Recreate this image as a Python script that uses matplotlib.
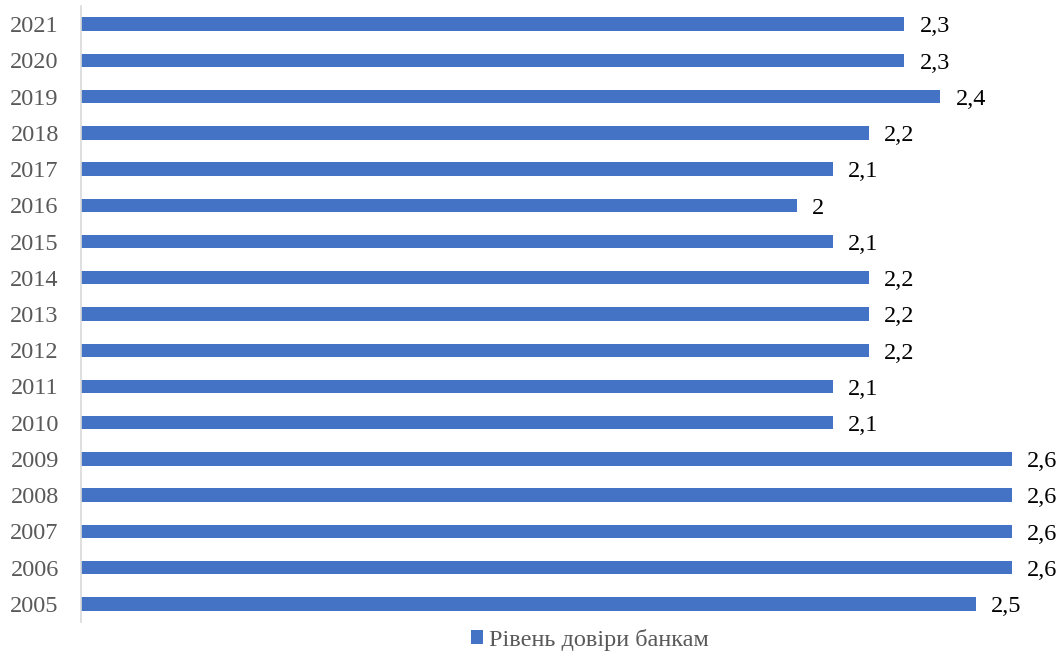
import matplotlib.pyplot as plt
from matplotlib.patches import Patch

years = [str(y) for y in range(2005, 2022)]
values = [2.5, 2.6, 2.6, 2.6, 2.6, 2.1, 2.1, 2.2, 2.2, 2.2, 2.1, 2.0, 2.1, 2.2, 2.4, 2.3, 2.3]
series_name = 'Рівень довіри банкам'

plt.rcParams['font.family'] = ['Liberation Serif', 'DejaVu Serif']

fig = plt.figure(figsize=(10.62, 6.53), dpi=100)
W, H = 1062, 653
ax = fig.add_axes([81 / W, 1 - 622 / H, (1062 - 81) / W, (622 - 6) / H])

bar_color = '#4472C4'
ypos = range(len(years))
ax.barh(ypos, values, height=0.37, color=bar_color)

ax.set_xlim(0, 2.74)
ax.set_ylim(-0.5, len(years) - 0.5)
ax.set_yticks(list(ypos))
ax.set_yticklabels(years, fontsize=17.5, color='#595959')
ax.tick_params(axis='y', length=0, pad=16)
ax.set_xticks([])

for s in ['top', 'right', 'bottom']:
    ax.spines[s].set_visible(False)
ax.spines['left'].set_color('#d9d9d9')
ax.spines['left'].set_linewidth(1.2)

for y, v in zip(ypos, values):
    label = f'{v:g}'.replace('.', ',')
    ax.annotate(label, (v, y), xytext=(11, -2), textcoords='offset points',
                va='center', ha='left', fontsize=17.5, color='black')

handle = Patch(facecolor=bar_color, edgecolor='none')
fig.legend([handle], [series_name], loc='center', bbox_to_anchor=(590 / W, 1 - 640 / H),
           frameon=False, fontsize=17.5, handlelength=0.5, handleheight=0.5,
           handletextpad=0.25, labelcolor='#595959')

fig.savefig('out.png', dpi=100)
